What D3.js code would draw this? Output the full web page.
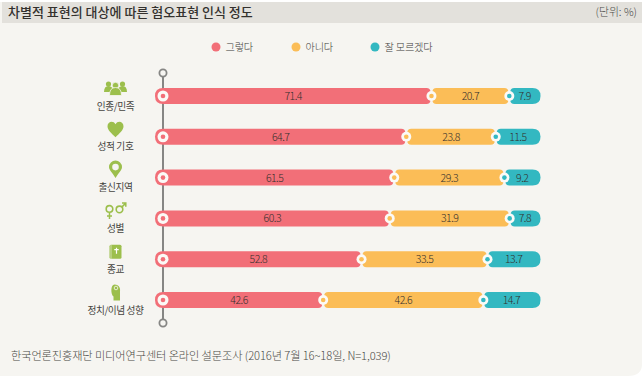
<!DOCTYPE html>
<html>
<head>
<meta charset="utf-8">
<script src="https://cdn.jsdelivr.net/npm/d3@7"></script>
<style>
html, body { margin: 0; padding: 0; background: #fff; }
svg { display: block; }
text { font-family: "Noto Sans CJK KR", "Noto Sans", sans-serif; }
</style>
</head>
<body>
<div class="container"></div>
<script>
var categories = ["인종/민족", "성적 기호", "출신지역", "성별", "종교", "정치/이념 성향"];
var seriesNames = ["그렇다", "아니다", "잘 모르겠다"];
var yes = [71.4, 64.7, 61.5, 60.3, 52.8, 42.6];
var no = [20.7, 23.8, 29.3, 31.9, 33.5, 42.6];
var unsure = [7.9, 11.5, 9.2, 7.8, 13.7, 14.7];
var colors = ["#f26f78", "#fbbd57", "#33b8c1"];

const WIDTH = 642;
const HEIGHT = 378;
const BAR_H = 16;

var xScale = d3.scaleLinear().domain([0, 100]).range([163, 539]);
var yScale = d3.scalePoint().domain(categories).range([96, 300]);
var legendScale = d3.scaleOrdinal().domain(seriesNames).range([216, 296, 375]);

var svg = d3.select('.container').append('svg')
    .attr('width', WIDTH)
    .attr('height', HEIGHT);

// panel and title band
svg.append('path')
    .attr('d', 'M0,2H642V364Q642,376 628,376H0Z')
    .attr('fill', '#f6f5f1');
svg.append('rect')
    .attr('x', 2).attr('y', 2)
    .attr('width', 640).attr('height', 21)
    .attr('fill', '#e3e1dc');

svg.append('text')
    .attr('x', 8).attr('y', 16.5)
    .attr('font-size', 13)
    .attr('font-weight', 500)
    .attr('fill', '#33312e')
    .text('차별적 표현의 대상에 따른 혐오표현 인식 정도');

svg.append('text')
    .attr('x', 637).attr('y', 16)
    .attr('text-anchor', 'end')
    .attr('font-size', 10.8)
    .attr('font-weight', 300)
    .attr('fill', '#4a4a48')
    .text('(단위: %)');

// legend
var legend = svg.selectAll('.legend').data(seriesNames)
    .enter().append('g')
    .attr('class', 'legend')
    .attr('transform', function (d) {return 'translate(' + legendScale(d) + ', 47)'});

legend.append('circle')
    .attr('r', 4.5)
    .attr('fill', function (d, i) {return colors[i]});

legend.append('text')
    .attr('x', 9.5).attr('y', 4)
    .attr('font-size', 10.2)
    .attr('font-weight', 300)
    .attr('letter-spacing', -0.2)
    .attr('fill', '#3c3c3a')
    .text(function (d) {return d});

// vertical axis line with end rings
svg.append('line')
    .attr('x1', xScale(0)).attr('x2', xScale(0))
    .attr('y1', 73).attr('y2', 323)
    .attr('stroke', '#868684')
    .attr('stroke-width', 2);

svg.selectAll('.axis-end').data([73, 323])
    .enter().append('circle')
    .attr('class', 'axis-end')
    .attr('cx', xScale(0))
    .attr('cy', function (d) {return d})
    .attr('r', 3.6)
    .attr('fill', '#f6f5f1')
    .attr('stroke', '#868684')
    .attr('stroke-width', 1.8);

// one bar segment, left and right corners can differ
var segment = function (x0, x1, cy, rl, rr) {
    var t = cy - BAR_H / 2, b = cy + BAR_H / 2;
    var p = d3.path();
    p.moveTo(x0 + rl, t);
    p.lineTo(x1 - rr, t);
    p.quadraticCurveTo(x1, t, x1, t + rr);
    p.lineTo(x1, b - rr);
    p.quadraticCurveTo(x1, b, x1 - rr, b);
    p.lineTo(x0 + rl, b);
    p.quadraticCurveTo(x0, b, x0, b - rl);
    p.lineTo(x0, t + rl);
    p.quadraticCurveTo(x0, t, x0 + rl, t);
    p.closePath();
    return p.toString();
};

var rows = svg.selectAll('.row').data(categories)
    .enter().append('g')
    .attr('class', 'row');

rows.each(function (cat, i) {
    var g = d3.select(this);
    var cy = yScale(cat);
    var vals = [yes[i], no[i], unsure[i]];
    var start = 0;
    var stacked = vals.map(function (v) {
        var s = {from: start, to: start + v, value: v};
        start += v;
        return s;
    });

    g.selectAll('.seg').data(stacked)
        .enter().append('path')
        .attr('class', 'seg')
        .attr('fill', function (d, k) {return colors[k]})
        .attr('d', function (d, k) {
            var x0 = k === 0 ? xScale(0) - 8 : xScale(d.from) + 1;
            var x1 = k === 2 ? xScale(100) + 1.5 : xScale(d.to) - 1;
            return segment(x0, x1, cy, k === 0 ? 8 : 4, k === 2 ? 8 : 4);
        });

    g.selectAll('.val').data(stacked)
        .enter().append('text')
        .attr('class', 'val')
        .attr('x', function (d, k) {
            var mid = xScale(d.from + d.value / 2);
            return k === 0 ? mid - 4 : k === 2 ? mid + 0.5 : mid;
        })
        .attr('y', cy + 4)
        .attr('text-anchor', 'middle')
        .attr('font-size', 10.5)
        .attr('font-weight', 300)
        .attr('letter-spacing', -0.5)
        .attr('fill', '#33302d')
        .text(function (d) {return d.value.toFixed(1)});

    // joints
    g.selectAll('.joint-o').data(stacked)
        .enter().append('circle')
        .attr('class', 'joint-o')
        .attr('cx', function (d) {return xScale(d.from)})
        .attr('cy', cy)
        .attr('r', function (d, k) {return k === 0 ? 5.5 : 5})
        .attr('fill', '#fbfaf7');

    g.selectAll('.joint-i').data(stacked)
        .enter().append('circle')
        .attr('class', 'joint-i')
        .attr('cx', function (d) {return xScale(d.from)})
        .attr('cy', cy)
        .attr('r', 2.3)
        .attr('fill', function (d, k) {return colors[k]});

    g.append('text')
        .attr('x', 115.5)
        .attr('y', cy + 13.5)
        .attr('text-anchor', 'middle')
        .attr('font-size', 9.7)
        .attr('font-weight', 400)
        .attr('letter-spacing', -0.4)
        .attr('fill', '#45443f')
        .text(cat);
});

// category icons, drawn in a box around the icon centre
var icons = [
    function (g) { // people
        [[-7, -2.5], [7, -2.5]].forEach(function (c) {
            g.append('circle').attr('cx', c[0]).attr('cy', c[1] - 2).attr('r', 2.6);
            g.append('path').attr('d', 'M' + (c[0] - 4.5) + ',' + (c[1] + 6) + 'q0,-6 4.5,-6q4.5,0 4.5,6z');
        });
        g.append('circle').attr('cy', -3).attr('r', 3.2).attr('stroke', '#f6f5f1').attr('stroke-width', 0.8);
        g.append('path').attr('d', 'M-6,7q0,-8 6,-8q6,0 6,8z').attr('stroke', '#f6f5f1').attr('stroke-width', 0.8);
    },
    function (g) { // heart
        g.append('path').attr('d', 'M0,8C-4,4 -8,1 -8,-3C-8,-8 -2,-9 0,-5C2,-9 8,-8 8,-3C8,1 4,4 0,8Z');
    },
    function (g) { // map pin
        g.append('path').attr('fill-rule', 'evenodd')
            .attr('d', 'M0,8C-3,3 -6.5,0 -6.5,-3A6.5,6.5 0 1 1 6.5,-3C6.5,0 3,3 0,8ZM0,-6.3A3.3,3.3 0 1 0 0,0.3A3.3,3.3 0 1 0 0,-6.3Z');
    },
    function (g) { // gender symbols
        g.append('circle').attr('cx', -6).attr('cy', -2).attr('r', 3.3).attr('fill', 'none').attr('stroke', '#9cbf4c').attr('stroke-width', 1.6);
        g.append('path').attr('d', 'M-6,1.5V8M-8.5,5H-3.5').attr('fill', 'none').attr('stroke', '#9cbf4c').attr('stroke-width', 1.5);
        g.append('circle').attr('cx', 4).attr('cy', -1.5).attr('r', 3.3).attr('fill', 'none').attr('stroke', '#9cbf4c').attr('stroke-width', 1.6);
        g.append('path').attr('d', 'M6.5,-4L10,-7.5M6.5,-8H10.3V-4.2').attr('fill', 'none').attr('stroke', '#9cbf4c').attr('stroke-width', 1.5);
    },
    function (g) { // bible
        g.append('rect').attr('x', -6).attr('y', -7).attr('width', 12).attr('height', 14).attr('rx', 1.5);
        g.append('path').attr('d', 'M-4.5,-7V7').attr('stroke', '#f6f5f1').attr('stroke-width', 0.6);
        g.append('path').attr('d', 'M1,-4V2M-1.2,-2H3.2').attr('stroke', '#fff').attr('stroke-width', 1.2);
    },
    function (g) { // head
        g.append('path').attr('d', 'M-1,-8C4,-8 5,-4 4.5,-1V8H-2V4C-5,2 -5,-8 -1,-8Z');
        g.append('circle').attr('cx', 0.5).attr('cy', -4.5).attr('r', 1.8).attr('fill', 'none').attr('stroke', '#f6f5f1').attr('stroke-width', 0.8);
    }
];

rows.append('g')
    .attr('fill', '#9cbf4c')
    .attr('transform', function (d) {return 'translate(115.5, ' + (yScale(d) - 7.5) + ')'})
    .each(function (d, i) {icons[i](d3.select(this))});

svg.append('text')
    .attr('x', 11).attr('y', 360)
    .attr('font-size', 11.2)
    .attr('font-weight', 300)
    .attr('letter-spacing', -0.1)
    .attr('fill', '#4a4a46')
    .text('한국언론진흥재단 미디어연구센터 온라인 설문조사 (2016년 7월 16~18일, N=1,039)');
</script>
</body>
</html>
